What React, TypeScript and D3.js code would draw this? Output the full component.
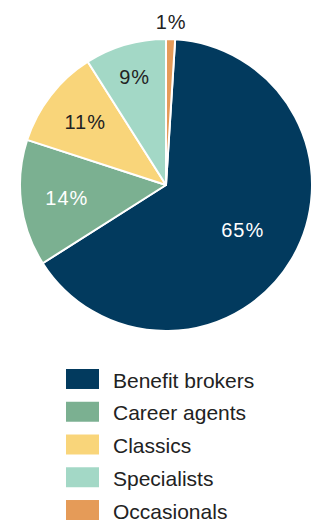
import React, { useEffect, useRef } from 'react';
import * as d3 from 'd3';

const categories = ['Benefit brokers', 'Career agents', 'Classics', 'Specialists', 'Occasionals'];
const shares = [65, 14, 11, 9, 1];
const colors = ['#023a5e', '#7bb091', '#f9d57a', '#a3d8c6', '#e59b58'];
const labelColors = ['#ffffff', '#ffffff', '#222222', '#222222', '#222222'];

const App = () => {
  const ref = useRef<SVGSVGElement>(null);

  useEffect(() => {
    const svg = d3.select(ref.current);
    svg.selectAll('*').remove();

    const cx = 166, cy = 185, radius = 146;
    // how far out each percentage sits, as a share of the radius
    const labelR = [0.61, 0.685, 0.7, 0.77, 1.12];

    const start = (shares[4] / 100) * Math.PI * 2;
    const pie = d3.pie<number>().sort(null).value((d) => d)
      .startAngle(start).endAngle(start + Math.PI * 2);
    const arcs = pie(shares);

    const arc = d3.arc<d3.PieArcDatum<number>>().innerRadius(0).outerRadius(radius);

    const g = svg.append('g').attr('transform', 'translate(' + cx + ',' + cy + ')');

    g.selectAll('path')
      .data(arcs)
      .enter()
      .append('path')
      .attr('d', arc)
      .attr('fill', (d, i) => colors[i])
      .attr('stroke', 'white')
      .attr('stroke-width', 2)
      .attr('stroke-linejoin', 'round');

    g.selectAll('text')
      .data(arcs)
      .enter()
      .append('text')
      .text((d) => d.data + '%')
      .attr('x', (d, i) => {
        const a = (d.startAngle + d.endAngle) / 2;
        return Math.sin(a) * radius * labelR[i];
      })
      .attr('y', (d, i) => {
        const a = (d.startAngle + d.endAngle) / 2;
        return -Math.cos(a) * radius * labelR[i];
      })
      .attr('text-anchor', 'middle')
      .attr('dominant-baseline', 'central')
      .attr('fill', (d, i) => labelColors[i])
      .style('font-family', '"Liberation Sans", Arial, sans-serif')
      .style('font-size', '20px')
      .style('letter-spacing', '1px');

    // legend
    const y = d3.scaleBand().domain(categories).range([369, 520]).paddingInner(0.39).paddingOuter(0);
    const legend = svg.append('g');
    const rows = legend.selectAll('g')
      .data(categories)
      .enter()
      .append('g')
      .attr('transform', (d) => 'translate(66,' + y(d) + ')');

    rows.append('rect')
      .attr('width', 33)
      .attr('height', y.bandwidth())
      .attr('fill', (d, i) => colors[i]);

    rows.append('text')
      .text((d) => d)
      .attr('x', 47)
      .attr('y', y.bandwidth() / 2 + 1)
      .attr('dominant-baseline', 'central')
      .attr('fill', '#222222')
      .style('font-family', '"Liberation Sans", Arial, sans-serif')
      .style('font-size', '21px');
  }, []);

  return (
    <svg ref={ref} width={318} height={521}
      style={{ position: 'absolute', left: 0, top: 0, background: 'white' }} />
  );
};

export default App;
